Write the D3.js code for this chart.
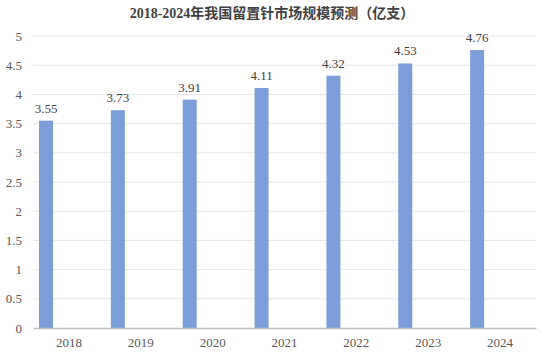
<!DOCTYPE html>
<html>
<head>
<meta charset="utf-8">
<script src="https://cdn.jsdelivr.net/npm/d3@7"></script>
<style>
  body { margin: 0; background: #fff; }
  svg { display: block; }
</style>
</head>
<body>
<svg id="svg" width="544" height="362"></svg>
<script>
var years = ["2018", "2019", "2020", "2021", "2022", "2023", "2024"];
var values = [3.55, 3.73, 3.91, 4.11, 4.32, 4.53, 4.76];
var yTicks = [0, 0.5, 1, 1.5, 2, 2.5, 3, 3.5, 4, 4.5, 5];
var title = "2018-2024年我国留置针市场规模预测（亿支）";

var svg = d3.select("svg"),
    margin = {top: 36, right: 8, bottom: 34, left: 33},
    width = 544 - margin.left - margin.right,
    height = 362 - margin.top - margin.bottom;

var font = "'Liberation Serif', 'Times New Roman', 'Noto Sans CJK SC', serif";

svg.append("text")
    .attr("x", 272)
    .attr("y", 18)
    .attr("text-anchor", "middle")
    .attr("font-family", font)
    .attr("font-weight", "bold")
    .attr("font-size", 14)
    .attr("fill", "#404040")
    .text(title);

var g = svg.append("g").attr("transform", "translate(" + margin.left + "," + margin.top + ")");

var x = d3.scaleBand()
    .domain(years)
    .range([0, width]);

var y = d3.scaleLinear()
    .domain([0, 5])
    .range([height, 0]);

// gridlines
g.selectAll(".grid")
    .data(yTicks.slice(1))
    .enter().append("line")
    .attr("x1", 0)
    .attr("x2", width)
    .attr("y1", function (d) { return y(d); })
    .attr("y2", function (d) { return y(d); })
    .attr("stroke", "#e6e6e6")
    .attr("stroke-width", 1);

// y axis
var yAxis = g.append("g")
    .call(d3.axisLeft(y).tickValues(yTicks).tickSize(0).tickPadding(11).tickFormat(d3.format("")));
yAxis.select(".domain").remove();
yAxis.selectAll("text")
    .attr("font-family", font)
    .attr("font-size", 13)
    .attr("fill", "#595959");

// bars sit in the left part of each band
var barOffset = 6, barWidth = 14;

g.selectAll(".bar")
    .data(values)
    .enter().append("rect")
    .attr("class", "bar")
    .attr("x", function (d, i) { return x(years[i]) + barOffset; })
    .attr("y", function (d) { return y(d); })
    .attr("width", barWidth)
    .attr("height", function (d) { return height - y(d); })
    .attr("fill", "#7b9ed8");

g.selectAll(".label")
    .data(values)
    .enter().append("text")
    .attr("x", function (d, i) { return x(years[i]) + barOffset + barWidth / 2; })
    .attr("y", function (d) { return y(d) - 8; })
    .attr("text-anchor", "middle")
    .attr("font-family", font)
    .attr("font-size", 13)
    .attr("fill", "#404040")
    .text(function (d) { return d.toFixed(2); });

// x axis
var xAxis = g.append("g")
    .attr("transform", "translate(0," + height + ")")
    .call(d3.axisBottom(x).tickSize(0).tickPadding(10));
xAxis.select(".domain")
    .attr("stroke", "#bfbfbf")
    .attr("stroke-width", 1.5);
xAxis.selectAll("text")
    .attr("font-family", font)
    .attr("font-size", 13)
    .attr("fill", "#595959");
</script>
</body>
</html>
